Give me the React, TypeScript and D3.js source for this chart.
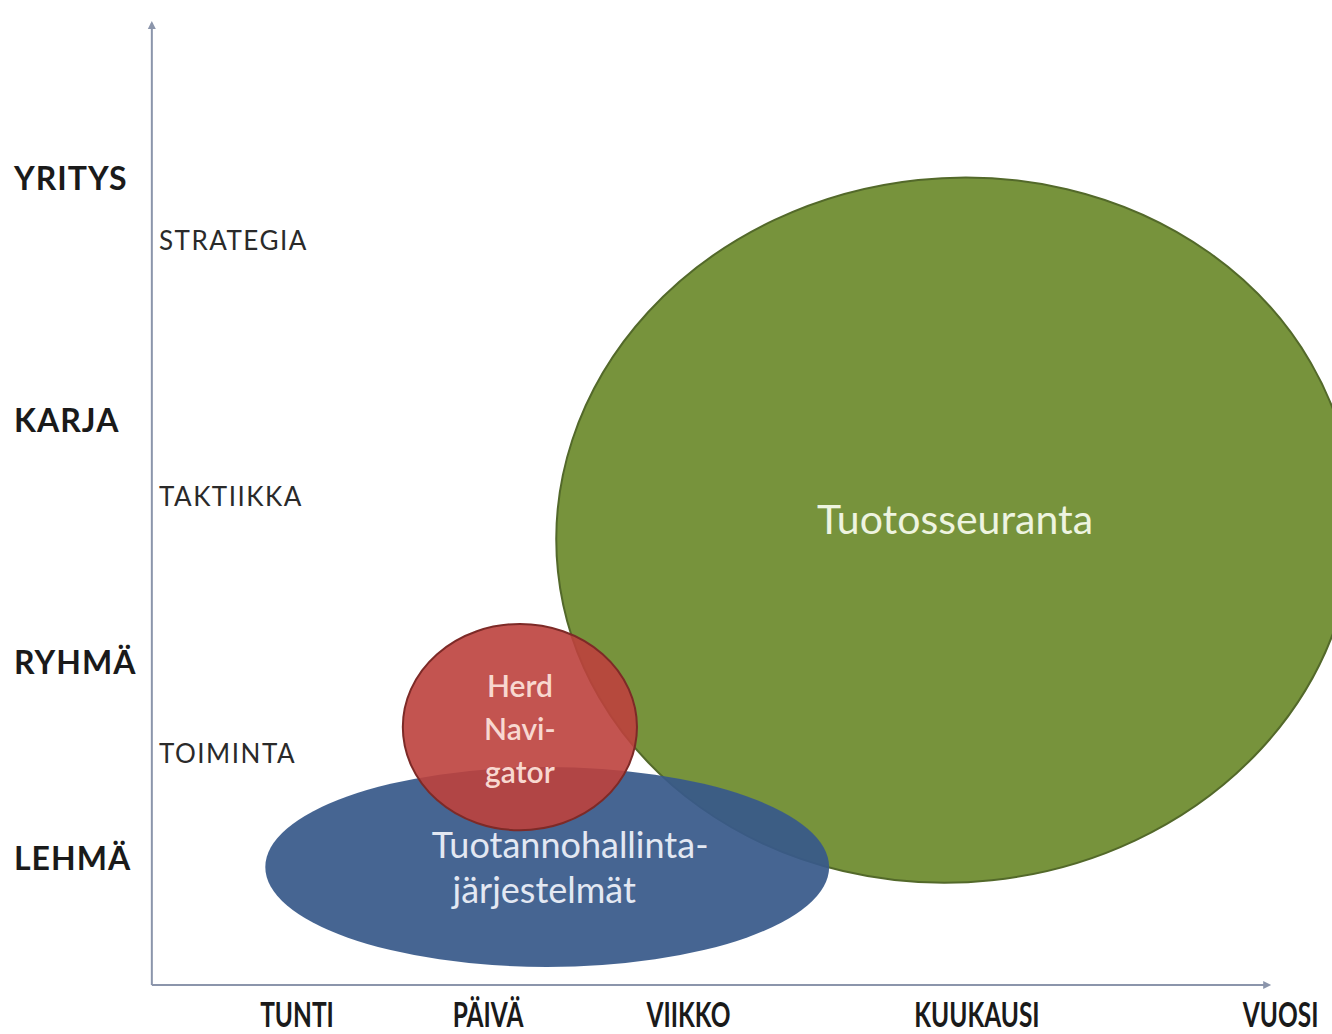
import React, { useRef, useEffect } from 'react';
import * as d3 from 'd3';

// scale positions (x: time level, y: organisation level)
const timeLabels = ['TUNTI', 'PÄIVÄ', 'VIIKKO', 'KUUKAUSI', 'VUOSI'];
const timePos = [1, 2, 3.05, 4.56, 6.15];

const levelLabels = ['LEHMÄ', 'RYHMÄ', 'KARJA', 'YRITYS'];
const levelPos = [1.19, 2, 3, 4];

const decisionLabels = ['TOIMINTA', 'TAKTIIKKA', 'STRATEGIA'];
const decisionPos = [1.62, 2.68, 3.74];

const systemNames = ['Tuotosseuranta', 'Tuotannohallinta-|järjestelmät', 'Herd|Navi-|gator'];
const systemCx = [4.445, 2.31, 2.167];
const systemCy = [2.545, 1.153, 1.731];
const systemRx = [2.09, 1.476, 0.613];
const systemRy = [1.455, 0.413, 0.426];
const systemTilt = [-6, 0, 0];

const fills = ['#77933c', '#38598a', '#bd413d'];
const strokes = ['#53692a', 'none', '#7d2a27'];
const opac = [1, 0.93, 0.9];
const textFill = ['#eef4e0', '#e3e8f2', '#f8d8d0'];
const textSize = [41, 36, 30];
const textLine = [0, 45, 43];

const App: React.FC = () => {
  const ref = useRef<SVGSVGElement | null>(null);

  useEffect(() => {
    if (!ref.current) return;
    const svg = d3.select(ref.current);
    svg.selectAll('*').remove();
    const width = 1332;
    const height = 1034;

    const x = d3.scaleLinear().domain([0, 1]).range([106, 297]);
    const y = d3.scaleLinear().domain([0, 4]).range([1146, 178]);
    const font = 'Lato, "Open Sans", sans-serif';

    svg.append('rect').attr('width', width).attr('height', height).attr('fill', '#fff');

    // ellipses
    const g = svg.append('g');
    systemNames.forEach((_, i) => {
      const cx = x(systemCx[i]);
      const cy = y(systemCy[i]);
      g.append('ellipse')
        .attr('cx', cx)
        .attr('cy', cy)
        .attr('rx', x(systemRx[i]) - x(0))
        .attr('ry', y(0) - y(systemRy[i]))
        .attr('transform', `rotate(${systemTilt[i]},${cx},${cy})`)
        .attr('fill', fills[i])
        .attr('fill-opacity', opac[i])
        .attr('stroke', strokes[i])
        .attr('stroke-width', 2);
    });

    // labels inside ellipses
    const dx = [[0], [23, -3], [0, 0, 0]];
    const dy = [-10, 1, 2];
    systemNames.forEach((name, i) => {
      const lines = name.split('|');
      const cx = x(systemCx[i]);
      const cy = y(systemCy[i]);
      const t = svg
        .append('text')
        .attr('text-anchor', 'middle')
        .attr('font-family', font)
        .attr('font-size', textSize[i])
        .attr('font-weight', i === 2 ? 600 : 400)
        .attr('fill', textFill[i]);
      lines.forEach((ln, j) => {
        t.append('tspan')
          .attr('x', cx + dx[i][j])
          .attr('y', cy + (j - (lines.length - 1) / 2) * textLine[i] + textSize[i] * 0.35 + dy[i])
          .text(ln);
      });
    });

    // axes
    const axisColor = '#8b95ab';
    const x0 = x(0.24);
    const yBottom = y(0.665);
    svg.append('line')
      .attr('x1', x0).attr('x2', x0)
      .attr('y1', yBottom).attr('y2', y(4.64))
      .attr('stroke', axisColor).attr('stroke-width', 2);
    svg.append('line')
      .attr('x1', x0).attr('x2', x(6.09))
      .attr('y1', yBottom).attr('y2', yBottom)
      .attr('stroke', axisColor).attr('stroke-width', 2);
    svg.append('path')
      .attr('d', `M${x0 - 4},${y(4.64) + 6}L${x0},${y(4.64) - 2}L${x0 + 4},${y(4.64) + 6}Z`)
      .attr('fill', axisColor);
    svg.append('path')
      .attr('d', `M${x(6.09) - 6},${yBottom - 4}L${x(6.09) + 2},${yBottom}L${x(6.09) - 6},${yBottom + 4}Z`)
      .attr('fill', axisColor);

    // y level labels
    svg.selectAll('text.level')
      .data(levelLabels)
      .join('text')
      .attr('class', 'level')
      .attr('x', 14)
      .attr('y', (_, i) => y(levelPos[i]) + 12)
      .attr('font-family', font)
      .attr('font-weight', 700)
      .attr('font-size', 32)
      .attr('letter-spacing', 1)
      .attr('fill', '#1a1a1a')
      .text((d) => d);

    svg.selectAll('text.decision')
      .data(decisionLabels)
      .join('text')
      .attr('class', 'decision')
      .attr('x', 159)
      .attr('y', (_, i) => y(decisionPos[i]) + 9)
      .attr('font-family', font)
      .attr('font-size', 26)
      .attr('fill', '#2a2a2a')
      .attr('letter-spacing', 1.5)
      .text((d) => d);

    // time labels
    svg.selectAll('text.time')
      .data(timeLabels)
      .join('text')
      .attr('class', 'time')
      .attr('text-anchor', 'middle')
      .attr('transform', (_, i) => `translate(${x(timePos[i])},${1027}) scale(0.72,1)`)
      .attr('font-family', font)
      .attr('font-weight', 700)
      .attr('font-size', 34)
      .attr('fill', '#1a1a1a')
      .text((d) => d);
  }, []);

  return (
    <svg
      ref={ref}
      width={1332}
      height={1034}
      style={{ position: 'absolute', left: 0, top: 0, display: 'block' }}
    />
  );
};

export default App;
